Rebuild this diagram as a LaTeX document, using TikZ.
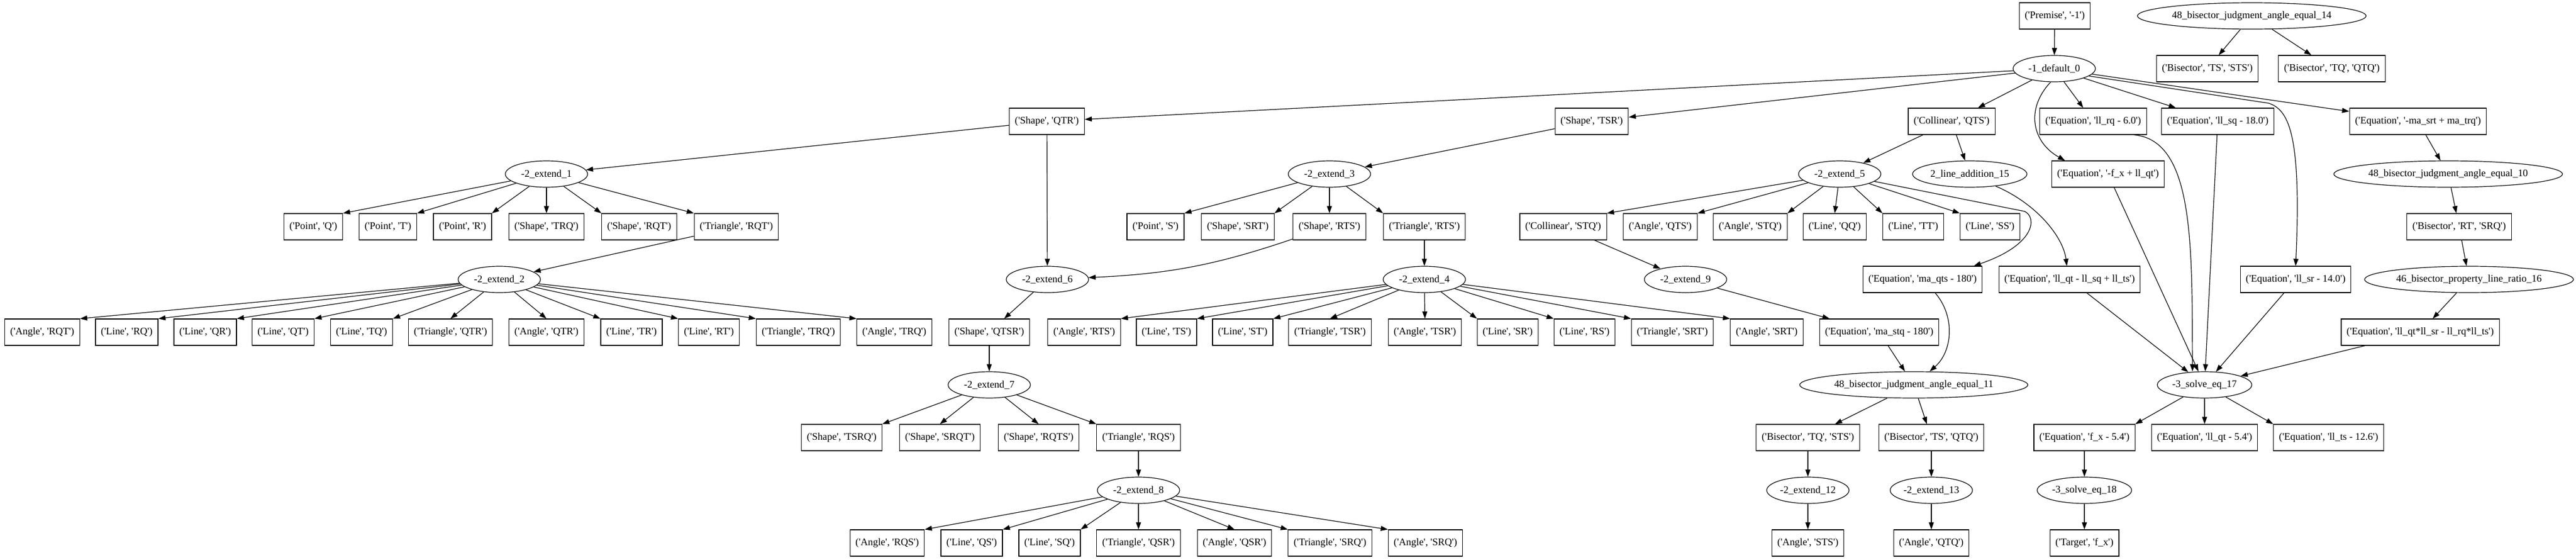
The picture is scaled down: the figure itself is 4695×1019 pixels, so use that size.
\documentclass[tikz,border=0pt]{standalone}
\usepackage{fontspec}
\setmainfont{Liberation Serif}[Ligatures=TeXOff]
\usetikzlibrary{shapes.geometric,arrows.meta}

\begin{document}
\begin{tikzpicture}[x=1bp,y=-1bp,
  every node/.style={font=\fontsize{18.5}{20}\selectfont},
  fact/.style={draw,rectangle,line width=1.2bp,minimum height=48bp,inner xsep=10bp,inner ysep=2bp},
  rule/.style={draw,ellipse,line width=1.2bp,minimum height=48bp,minimum width=150bp,inner xsep=2bp,inner ysep=2bp},
  edge/.style={line width=1.2bp,-{Triangle[length=13bp,width=9bp]}}]
\useasboundingbox (0,0) rectangle (4695,1019);

% top rows
\node[fact] (prem) at (3745,29) {('Premise', '-1')};
\node[rule] (r14) at (4104,29) {48\_bisector\_judgment\_angle\_equal\_14};
\node[rule] (d0) at (3744,125) {-1\_default\_0};
\node[fact] (bisTS) at (4023,125) {('Bisector', 'TS', 'STS')};
\node[fact] (bisTQ) at (4250,125) {('Bisector', 'TQ', 'QTQ')};
\node[fact] (shQTR) at (1908,221) {('Shape', 'QTR')};
\node[fact] (shTSR) at (2901,221) {('Shape', 'TSR')};
\node[fact] (colQTS) at (3557,221) {('Collinear', 'QTS')};
\node[fact] (eqRQ) at (3815,221) {('Equation', 'll\_rq - 6.0')};
\node[fact] (eqSQ) at (4042,221) {('Equation', 'll\_sq - 18.0')};
\node[fact] (eqMA) at (4407,221) {('Equation', '-ma\_srt + ma\_trq')};
\node[rule] (e1) at (996,317) {-2\_extend\_1};
\node[rule] (e3) at (2423,317) {-2\_extend\_3};
\node[rule] (e5) at (3353,317) {-2\_extend\_5};
\node[rule] (r15) at (3590,317) {2\_line\_addition\_15};
\node[fact] (eqFX) at (3842,317) {('Equation', '-f\_x + ll\_qt')};
\node[rule] (r10) at (4462,317) {48\_bisector\_judgment\_angle\_equal\_10};

% row of facts at 413
\foreach \n/\x/\t in {pQ/571/{('Point', 'Q')}, pT/707/{('Point', 'T')}, pR/843/{('Point', 'R')},
  shTRQ/996/{('Shape', 'TRQ')}, shRQT/1165/{('Shape', 'RQT')}, trRQT/1342/{('Triangle', 'RQT')},
  pS/2106/{('Point', 'S')}, shSRT/2256/{('Shape', 'SRT')}, shRTS/2423/{('Shape', 'RTS')},
  trRTS/2596/{('Triangle', 'RTS')}, colSTQ/2849/{('Collinear', 'STQ')}, anQTS/3026/{('Angle', 'QTS')},
  anSTQ/3190/{('Angle', 'STQ')}, lnQQ/3344/{('Line', 'QQ')}, lnTT/3487/{('Line', 'TT')},
  lnSS/3627/{('Line', 'SS')}, bisRT/4482/{('Bisector', 'RT', 'SRQ')}}
  \node[fact] (\n) at (\x,413) {\t};

\node[rule] (e2) at (910,509) {-2\_extend\_2};
\node[rule] (e6) at (1909,509) {-2\_extend\_6};
\node[rule] (e4) at (2596,509) {-2\_extend\_4};
\node[rule] (e9) at (3072,509) {-2\_extend\_9};
\node[fact] (eqQTS) at (3504,509) {('Equation', 'ma\_qts - 180')};
\node[fact] (eqSUM) at (3772,509) {('Equation', 'll\_qt - ll\_sq + ll\_ts')};
\node[fact] (eqSR) at (4184,509) {('Equation', 'll\_sr - 14.0')};
\node[rule] (r16) at (4500,509) {46\_bisector\_property\_line\_ratio\_16};

% row of facts at 605
\foreach \n/\x/\t in {anRQT/77/{('Angle', 'RQT')}, lnRQ/231/{('Line', 'RQ')}, lnQR/374/{('Line', 'QR')},
  lnQT/516/{('Line', 'QT')}, lnTQ/659/{('Line', 'TQ')}, trQTR/821/{('Triangle', 'QTR')},
  anQTR/996/{('Angle', 'QTR')}, lnTR/1151/{('Line', 'TR')}, lnRT/1292/{('Line', 'RT')},
  trTRQ/1455/{('Triangle', 'TRQ')}, anTRQ/1630/{('Angle', 'TRQ')}, shQTSR/1803/{('Shape', 'QTSR')},
  anRTS/1976/{('Angle', 'RTS')}, lnTS/2126/{('Line', 'TS')}, lnST/2265/{('Line', 'ST')},
  trTSR/2424/{('Triangle', 'TSR')}, anTSR/2597/{('Angle', 'TSR')}, lnSR/2748/{('Line', 'SR')},
  lnRS/2888/{('Line', 'RS')}, trSRT/3048/{('Triangle', 'SRT')}, anSRT/3220/{('Angle', 'SRT')},
  eqSTQ/3425/{('Equation', 'ma\_stq - 180')}, eqPR/4411/{('Equation', 'll\_qt*ll\_sr - ll\_rq*ll\_ts')}}
  \node[fact] (\n) at (\x,605) {\t};

\node[rule] (e7) at (1803,701) {-2\_extend\_7};
\node[rule] (r11) at (3488,701) {48\_bisector\_judgment\_angle\_equal\_11};
\node[rule] (s17) at (4018,701) {-3\_solve\_eq\_17};

\foreach \n/\x/\t in {shTSRQ/1534/{('Shape', 'TSRQ')}, shSRQT/1713/{('Shape', 'SRQT')},
  shRQTS/1893/{('Shape', 'RQTS')}, trRQS/2075/{('Triangle', 'RQS')},
  bisTQb/3295/{('Bisector', 'TQ', 'STS')}, bisTSb/3520/{('Bisector', 'TS', 'QTQ')},
  eqF/3799/{('Equation', 'f\_x - 5.4')}, eqQT/4018/{('Equation', 'll\_qt - 5.4')},
  eqTS/4244/{('Equation', 'll\_ts - 12.6')}}
  \node[fact] (\n) at (\x,797) {\t};

\node[rule] (e8) at (2075,893) {-2\_extend\_8};
\node[rule] (e12) at (3295,893) {-2\_extend\_12};
\node[rule] (e13) at (3520,893) {-2\_extend\_13};
\node[rule] (s18) at (3799,893) {-3\_solve\_eq\_18};

\foreach \n/\x/\t in {anRQS/1617/{('Angle', 'RQS')}, lnQS/1771/{('Line', 'QS')}, lnSQ/1913/{('Line', 'SQ')},
  trQSR/2075/{('Triangle', 'QSR')}, anQSR/2250/{('Angle', 'QSR')}, trSRQ/2424/{('Triangle', 'SRQ')},
  anSRQ/2598/{('Angle', 'SRQ')}, anSTS/3295/{('Angle', 'STS')}, anQTQ/3520/{('Angle', 'QTQ')},
  tgt/3799/{('Target', 'f\_x')}}
  \node[fact] (\n) at (\x,989) {\t};

% edges
\draw[edge] (prem) -- (d0);
\foreach \c in {bisTS,bisTQ} \draw[edge] (r14) -- (\c);
\foreach \c in {shQTR,shTSR,colQTS,eqRQ,eqSQ,eqMA} \draw[edge] (d0) -- (\c);
\draw[edge] (d0.-105) .. controls (3690,200) and (3705,260) .. ([xshift=25bp]eqFX.north west);
\draw[edge] (d0.-12) -- (4135,188) .. controls (4170,200) and (4195,240) .. (eqSR.north);
\foreach \c in {e5,r15} \draw[edge] (colQTS) -- (\c);
\draw[edge] (e5.-12) -- (3690,385) .. controls (3712,395) and (3712,445) .. ([xshift=-16bp]eqQTS.north east);
\draw[edge] (r15.-25) .. controls (3710,370) and (3760,430) .. ([xshift=-5bp]eqSUM.north);
\draw[edge] (eqMA) -- (r10);
\draw[edge] (r10) -- (bisRT);
\draw[edge] (bisRT) -- (r16);
\draw[edge] (r16) -- (eqPR);
\draw[edge] ([xshift=-24bp]eqRQ.south east) .. controls (4000,255) and (3995,450) .. ([xshift=-22bp]s17.north);
\foreach \c in {eqFX,eqSQ,eqSUM,eqSR,eqPR} \draw[edge] (\c) -- (s17);
\foreach \c/\a in {eqF/north east,eqQT/north,eqTS/north west} \draw[edge] (s17) -- (\c.\a);
\draw[edge] (eqF) -- (s18);
\draw[edge] (s18) -- (tgt);
\foreach \c in {e1,e6} \draw[edge] (shQTR) -- (\c);
\foreach \c/\a in {pQ/north east,pT/north east,pR/north east,shTRQ/north,shRQT/north west,trRQT/north west}
  \draw[edge] (e1) -- (\c.\a);
\draw[edge] (trRQT) -- (e2);
\foreach \c/\a in {anRQT/north east,lnRQ/north east,lnQR/north east,lnQT/north east,lnTQ/north east,
  trQTR/north,anQTR/north,lnTR/north west,lnRT/north west,trTRQ/north west,anTRQ/north west}
  \draw[edge] (e2) -- (\c.\a);
\draw[edge] (shTSR) -- (e3);
\foreach \c/\a in {pS/north east,shSRT/north east,shRTS/north,trRTS/north west} \draw[edge] (e3) -- (\c.\a);
\draw[edge] (shRTS) to[bend left=8] (e6);
\draw[edge] (trRTS) -- (e4);
\foreach \c/\a in {anRTS/north east,lnTS/north east,lnST/north east,trTSR/north,anTSR/north,
  lnSR/north west,lnRS/north west,trSRT/north west,anSRT/north west}
  \draw[edge] (e4) -- (\c.\a);
\foreach \c/\a in {colSTQ/north east,anQTS/north east,anSTQ/north east,lnQQ/north,lnTT/north west,lnSS/north west}
  \draw[edge] (e5) -- (\c.\a);
\draw[edge] (colSTQ) -- (e9);
\draw[edge] (e9) -- (eqSTQ);
\draw[edge] (eqSTQ) -- (r11);
\draw[edge] ([xshift=23bp]eqQTS.south) to[bend left=45] ([xshift=29bp]r11.north);
\foreach \c in {bisTQb,bisTSb} \draw[edge] (r11) -- (\c);
\draw[edge] (bisTQb) -- (e12);
\draw[edge] (e12) -- (anSTS);
\draw[edge] (bisTSb) -- (e13);
\draw[edge] (e13) -- (anQTQ);
\draw[edge] (e6) -- (shQTSR);
\draw[edge] (shQTSR) -- (e7);
\foreach \c/\a in {shTSRQ/north east,shSRQT/north,shRQTS/north,trRQS/north west} \draw[edge] (e7) -- (\c.\a);
\draw[edge] (trRQS) -- (e8);
\foreach \c/\a in {anRQS/north east,lnQS/north east,lnSQ/north east,trQSR/north,anQSR/north,
  trSRQ/north west,anSRQ/north west}
  \draw[edge] (e8) -- (\c.\a);
\end{tikzpicture}
\end{document}
